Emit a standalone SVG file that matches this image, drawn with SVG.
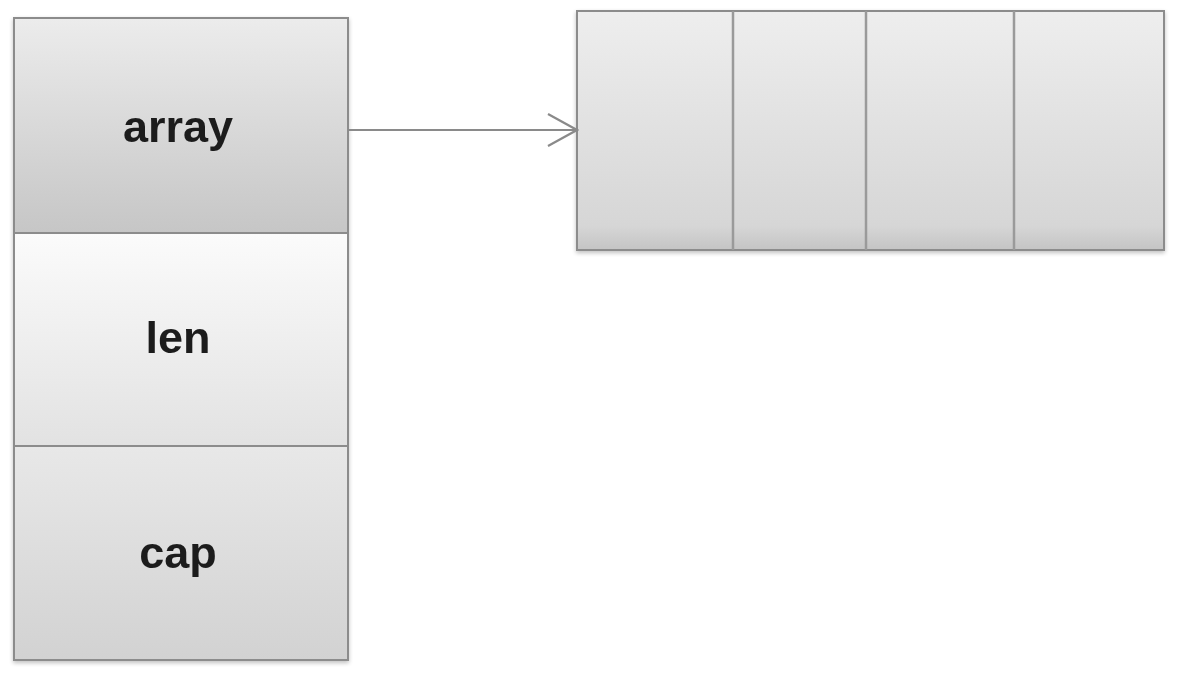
<svg xmlns="http://www.w3.org/2000/svg" width="1180" height="682" viewBox="0 0 1180 682">
<defs>
<linearGradient id="gArr" x1="0" y1="0" x2="0" y2="1"><stop offset="0" stop-color="#ececec"/><stop offset="1" stop-color="#c6c6c6"/></linearGradient>
<linearGradient id="gLen" x1="0" y1="0" x2="0" y2="1"><stop offset="0" stop-color="#fbfbfb"/><stop offset="1" stop-color="#e2e2e2"/></linearGradient>
<linearGradient id="gCap" x1="0" y1="0" x2="0" y2="1"><stop offset="0" stop-color="#e8e8e8"/><stop offset="1" stop-color="#d2d2d2"/></linearGradient>
<linearGradient id="gCell" x1="0" y1="0" x2="0" y2="1"><stop offset="0" stop-color="#eeeeee"/><stop offset="0.9" stop-color="#d6d6d6"/><stop offset="1" stop-color="#c4c4c4"/></linearGradient>
<marker id="open" markerWidth="32" markerHeight="36" refX="30" refY="18" orient="auto" markerUnits="userSpaceOnUse">
<path d="M1,2 L30,18 L1,34" fill="none" stroke="#8a8a8a" stroke-width="2.2"/>
</marker>
<filter id="sh" x="-5%" y="-5%" width="110%" height="115%"><feGaussianBlur in="SourceAlpha" stdDeviation="2"/><feOffset dy="2" result="b"/><feComponentTransfer><feFuncA type="linear" slope="0.25"/></feComponentTransfer><feMerge><feMergeNode/><feMergeNode in="SourceGraphic"/></feMerge></filter>
</defs>
<style>
.box{stroke:#8c8c8c;stroke-width:2}
.lbl{font-family:"Liberation Sans",Arial,sans-serif;font-weight:bold;font-size:45px;fill:#1e1e1e;text-anchor:middle}
.div{stroke:#9a9a9a;stroke-width:2.5}
</style>
<rect width="1180" height="682" fill="#ffffff"/>
<g id="slice" filter="url(#sh)">
<g id="field-array"><rect class="box" x="14" y="18" width="334" height="215" fill="url(#gArr)"/><text class="lbl" x="178" y="142">array</text></g>
<g id="field-len"><rect class="box" x="14" y="233" width="334" height="213" fill="url(#gLen)"/><text class="lbl" x="178" y="353">len</text></g>
<g id="field-cap"><rect class="box" x="14" y="446" width="334" height="214" fill="url(#gCap)"/><text class="lbl" x="178" y="568">cap</text></g>
</g>
<g id="backing-array" filter="url(#sh)">
<rect class="box" x="577" y="11" width="587" height="239" fill="url(#gCell)"/>
<line class="div" x1="733" y1="11" x2="733" y2="250"/>
<line class="div" x1="866" y1="11" x2="866" y2="250"/>
<line class="div" x1="1014" y1="11" x2="1014" y2="250"/>
</g>
<g id="connectors">
<line x1="348" y1="130" x2="577" y2="130" stroke="#8a8a8a" stroke-width="2.2" marker-end="url(#open)"/>
</g>
</svg>
